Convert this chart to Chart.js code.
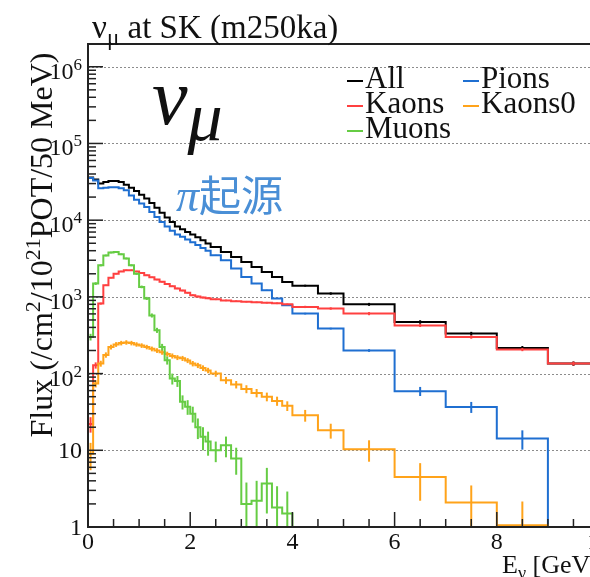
<!DOCTYPE html>
<html>
<head>
<meta charset="utf-8">
<script src="https://cdn.jsdelivr.net/npm/chart.js@4.4.1/dist/chart.umd.min.js"></script>
<style>
  html, body { margin: 0; padding: 0; overflow: hidden; background: #fff; }
  #wrap { position: absolute; left: 0; top: 0; width: 620px; height: 577px; }
</style>
</head>
<body>
<div id="wrap"><canvas id="c" width="620" height="577"></canvas></div>
<script>
// Neutrino energy bin edges [GeV]
const binEdges = [0, 0.1, 0.2, 0.3, 0.4, 0.5, 0.6, 0.7, 0.8, 0.9, 1.0, 1.1, 1.2, 1.3, 1.4, 1.5,
  1.6, 1.7, 1.8, 1.9, 2.0, 2.1, 2.2, 2.3, 2.4, 2.6, 2.8, 3.0, 3.2, 3.4, 3.6, 3.8, 4.0,
  4.5, 5, 6, 7, 8, 9, 10];

// numu flux at SK by parent, /cm^2/1e21 POT/50 MeV
const allFlux = [36000, 34000, 30000, 31500, 32500, 32500, 31500, 29000, 26500, 24000, 21500, 19200,
  16800, 14500, 12500, 10800, 9500, 8300, 7600, 7000, 6500, 6000, 5470, 4950,
  4470, 3850, 3320, 2850, 2450, 2110, 1820, 1560, 1400, 1105, 800, 471, 332, 216, 135];
const pionFlux = [35500, 33000, 26000, 26500, 26800, 26800, 26000, 24500, 21000, 18500, 16500, 14800,
  12800, 11000, 9500, 8300, 7300, 6500, 6100, 5600, 5150, 4750, 4350, 4000,
  3500, 3000, 2340, 1820, 1490, 1220, 955, 777, 605, 386, 200, 59, 36.7, 14.2, 0];
const kaonFlux = [22, 128, 817, 1416, 1780, 2000, 2150, 2230, 2230, 2150, 2050, 1920,
  1800, 1680, 1570, 1470, 1380, 1290, 1210, 1130, 1050, 1010, 980, 960,
  930, 900, 880, 865, 850, 840, 825, 800, 740, 705, 605, 425, 300, 206, 135];
const kaon0Flux = [9, 74, 135, 175, 222, 240, 250, 255, 250, 240, 232, 222,
  210, 200, 190, 180, 170, 162, 158, 148, 135, 128, 118, 110,
  100, 82, 72, 63, 56, 50, 44, 38, 28.6, 18.2, 10.3, 4.5, 2.08, 1.05, 0];
const muonFlux = [300, 1490, 2580, 3470, 3790, 3850, 3590, 3170, 2580, 2000, 1350, 955,
  573, 367, 222, 149, 86, 80, 43, 37, 30, 20, 15, 13,
  10, 11.6, 7.8, 2.0, 2.2, 3.7, 1.8, 1.5, 0, 0, 0, 0, 0, 0, 0];

// statistical errors for each bin
const allErr = [360, 340, 300, 300, 300, 300, 300, 280, 260, 240, 210, 190,
  170, 150, 130, 110, 100, 90, 80, 75, 70, 65, 60, 55,
  50, 45, 40, 35, 30, 28, 25, 22, 40, 40, 35, 25, 18, 13, 9];
const pionErr = [350, 330, 260, 265, 270, 270, 260, 245, 210, 185, 165, 150,
  130, 110, 95, 85, 75, 65, 60, 56, 52, 48, 44, 40,
  35, 30, 25, 22, 20, 18, 16, 15, 15, 10, 8, 8, 6, 4, 0];
const kaonErr = [5, 12, 25, 30, 35, 37, 38, 38, 38, 37, 36, 35,
  34, 33, 32, 31, 30, 29, 28, 27, 26, 26, 25, 25,
  22, 21, 21, 20, 20, 20, 20, 19, 25, 25, 28, 20, 15, 10, 8];
const kaon0Err = [3.5, 8, 12, 14, 16, 17, 17, 17, 17, 16, 16, 15,
  15, 14, 14, 13, 13, 12, 12, 11, 11, 10, 10, 9,
  9, 8.5, 8, 7.5, 7, 6.5, 6, 5.5, 5, 4, 3.2, 2.3, 1.4, 1.1, 0];
const muonErr = [30, 60, 80, 90, 95, 95, 90, 85, 75, 65, 55, 45,
  35, 28, 22, 18, 14, 13, 9, 8, 7, 6, 5, 4.5,
  3, 3.5, 3, 1.8, 1.8, 2.2, 1.6, 1.4, 0, 0, 0, 0, 0, 0, 0];

const seriesNames = ['All', 'Pions', 'Kaons', 'Kaons0', 'Muons'];
const seriesColors = ['#000000', '#1f6fd1', '#ff4040', '#ffa31a', '#66cc44'];

// axis ranges and tick positions
const X_MIN = 0, X_MAX = 10;
const Y_MIN = 1, Y_MAX = 1.98e6;
const xMajorTicks = [0, 2, 4, 6, 8, 10];
const yDecades = [0, 1, 2, 3, 4, 5, 6];

const SERIF = "'Liberation Serif', 'DejaVu Serif', serif";

// histogram outline: flat segment across every bin; empty bins lie on the axis floor
function stepPoints(vals) {
  const pts = [];
  vals.forEach((v, i) => {
    const y = v > 0 ? v : Y_MIN;
    pts.push({ x: binEdges[i], y: y }, { x: binEdges[i + 1], y: y });
  });
  return pts;
}

function makeSet(idx, vals, errs, order) {
  return {
    label: seriesNames[idx],
    data: stepPoints(vals),
    values: vals,
    errors: errs,
    borderColor: seriesColors[idx],
    backgroundColor: seriesColors[idx],
    borderWidth: 2,
    pointRadius: 0,
    tension: 0,
    fill: false,
    clip: false,
    order: order
  };
}

// rich text: segments of {t, font, dy}
function richWidth(ctx, segs) {
  let w = 0;
  for (const s of segs) { ctx.font = s.font; w += ctx.measureText(s.t).width; }
  return w;
}
function drawRich(ctx, segs, x, y, align, sx) {
  sx = sx || 1;
  ctx.save();
  ctx.translate(x, y);
  ctx.scale(sx, 1);
  ctx.textAlign = 'left';
  ctx.textBaseline = 'alphabetic';
  const w = richWidth(ctx, segs);
  let cx = align === 'right' ? -w : (align === 'center' ? -w / 2 : 0);
  for (const s of segs) {
    ctx.font = s.font;
    ctx.fillText(s.t, cx, s.dy || 0);
    cx += ctx.measureText(s.t).width;
  }
  ctx.restore();
}

const framePlugin = {
  id: 'frame',
  beforeDraw(chart) {
    const ctx = chart.ctx;
    ctx.save();
    ctx.fillStyle = '#fff';
    ctx.fillRect(0, 0, chart.width, chart.height);
    ctx.restore();
  },
  beforeDatasetsDraw(chart) {
    const { ctx, chartArea: a, scales: { y } } = chart;
    ctx.save();
    ctx.strokeStyle = '#8c8c8c';
    ctx.lineWidth = 1;
    ctx.setLineDash([2, 2]);
    for (const d of yDecades) {
      if (d === 0) continue;
      const py = Math.round(y.getPixelForValue(Math.pow(10, d))) + 0.5;
      ctx.beginPath();
      ctx.moveTo(a.left, py);
      ctx.lineTo(a.right, py);
      ctx.stroke();
    }
    ctx.restore();
  },
  afterDatasetDraw(chart, args) {
    const ds = chart.data.datasets[args.index];
    const { ctx, scales: { x, y } } = chart;
    ctx.save();
    ctx.strokeStyle = ds.borderColor;
    ctx.lineWidth = 2;
    ds.values.forEach((v, i) => {
      if (!(v > 0)) return;
      const e = ds.errors[i];
      if (!(e > 0)) return;
      const xc = x.getPixelForValue((binEdges[i] + binEdges[i + 1]) / 2);
      const lo = Math.max(v - e, Y_MIN);
      const hi = v + e;
      ctx.beginPath();
      ctx.moveTo(xc, y.getPixelForValue(lo));
      ctx.lineTo(xc, y.getPixelForValue(hi));
      ctx.stroke();
    });
    ctx.restore();
  },
  afterDraw(chart) {
    const { ctx, chartArea: a, scales: { x, y } } = chart;
    ctx.save();
    // frame
    ctx.strokeStyle = '#222';
    ctx.lineWidth = 2;
    ctx.beginPath();
    ctx.moveTo(a.right, a.top);
    ctx.lineTo(a.left, a.top);
    ctx.lineTo(a.left, a.bottom);
    ctx.lineTo(a.right, a.bottom);
    ctx.stroke();

    // x ticks (inside)
    ctx.lineWidth = 1.5;
    for (let v = X_MIN; v <= X_MAX + 1e-9; v += 0.5) {
      const px = x.getPixelForValue(v);
      const major = xMajorTicks.some(t => Math.abs(t - v) < 1e-9);
      ctx.beginPath();
      ctx.moveTo(px, a.bottom);
      ctx.lineTo(px, a.bottom - (major ? 15 : 8));
      ctx.stroke();
    }
    // y ticks (inside)
    for (const d of yDecades) {
      for (let m = 1; m <= 9; m++) {
        const v = m * Math.pow(10, d);
        if (v > Y_MAX) break;
        const py = y.getPixelForValue(v);
        ctx.beginPath();
        ctx.moveTo(a.left, py);
        ctx.lineTo(a.left + (m === 1 ? 15 : 8), py);
        ctx.stroke();
      }
    }

    ctx.fillStyle = '#111';
    // x tick labels
    for (const t of xMajorTicks) {
      drawRich(ctx, [{ t: String(t), font: `24px ${SERIF}` }], x.getPixelForValue(t), 549, 'center');
    }
    // y tick labels
    for (const d of yDecades) {
      const py = y.getPixelForValue(Math.pow(10, d));
      let segs;
      if (d === 0) segs = [{ t: '1', font: `24px ${SERIF}` }];
      else if (d === 1) segs = [{ t: '10', font: `24px ${SERIF}` }];
      else segs = [{ t: '10', font: `24px ${SERIF}`, dy: 4 }, { t: String(d), font: `17px ${SERIF}`, dy: -5 }];
      drawRich(ctx, segs, a.left - 6, py + 8, 'right');
    }

    // axis titles
    drawRich(ctx, [
      { t: 'E', font: `26px ${SERIF}` },
      { t: 'ν', font: `18px ${SERIF}`, dy: 6 },
      { t: ' [GeV]', font: `26px ${SERIF}` }
    ], a.right, 573, 'right');

    ctx.save();
    ctx.translate(52, 245);
    ctx.rotate(-Math.PI / 2);
    drawRich(ctx, [
      { t: 'Flux (/cm', font: `32px ${SERIF}` },
      { t: '2', font: `22px ${SERIF}`, dy: -12 },
      { t: '/10', font: `32px ${SERIF}` },
      { t: '21', font: `22px ${SERIF}`, dy: -12 },
      { t: 'POT/50 MeV)', font: `32px ${SERIF}` }
    ], 0, 0, 'center');
    ctx.restore();

    // title
    drawRich(ctx, [
      { t: 'ν', font: `33px ${SERIF}` },
      { t: 'μ', font: `23px ${SERIF}`, dy: 7 },
      { t: ' at SK (m250ka)', font: `33px ${SERIF}` }
    ], 92, 38, 'left');

    // legend
    const legX = [347, 463], legY = [88, 113, 138];
    const legPos = [[0, 0], [1, 0], [0, 1], [1, 1], [0, 2]];
    seriesNames.forEach((name, i) => {
      const [c, r] = legPos[i];
      ctx.strokeStyle = seriesColors[i];
      ctx.lineWidth = 2;
      ctx.beginPath();
      ctx.moveTo(legX[c], legY[r] - 7);
      ctx.lineTo(legX[c] + 16, legY[r] - 7);
      ctx.stroke();
      ctx.fillStyle = '#111';
      drawRich(ctx, [{ t: name, font: `31px ${SERIF}` }], legX[c] + 18, legY[r], 'left');
    });

    // annotations
    ctx.fillStyle = '#111';
    drawRich(ctx, [
      { t: 'ν', font: `italic 80px ${SERIF}` },
      { t: 'μ', font: `italic 70px ${SERIF}`, dy: 16 }
    ], 152, 124, 'left');

    ctx.fillStyle = '#4a8fd6';
    drawRich(ctx, [
      { t: 'π', font: `italic 46px ${SERIF}` },
      { t: '起源', font: `42px 'Noto Sans CJK JP', 'Noto Sans CJK SC', sans-serif`, dy: 0 }
    ], 176, 211, 'left');

    ctx.restore();
  }
};

new Chart(document.getElementById('c'), {
  type: 'line',
  data: {
    datasets: [
      makeSet(0, allFlux, allErr, 4),
      makeSet(1, pionFlux, pionErr, 3),
      makeSet(2, kaonFlux, kaonErr, 2),
      makeSet(3, kaon0Flux, kaon0Err, 1),
      makeSet(4, muonFlux, muonErr, 0)
    ]
  },
  options: {
    responsive: false,
    animation: false,
    layout: { padding: { left: 88, top: 44, right: 21, bottom: 50 } },
    plugins: { legend: { display: false }, tooltip: { enabled: false }, title: { display: false } },
    scales: {
      x: { type: 'linear', min: X_MIN, max: X_MAX, display: false },
      y: { type: 'logarithmic', min: Y_MIN, max: Y_MAX, display: false }
    }
  },
  plugins: [framePlugin]
});
</script>
</body>
</html>
